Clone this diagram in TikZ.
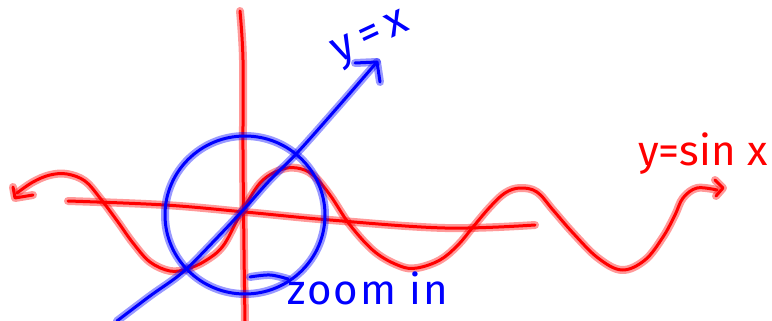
\documentclass[tikz,border=0pt]{standalone}
\usepackage{fontspec}
\setmainfont{Fira Sans}
\tikzset{
  redpen/.style={draw=red, line width=3pt, line cap=round, line join=round,
    preaction={draw=red, draw opacity=0.4, line width=8pt, line cap=round, line join=round}},
  bluepen/.style={draw=blue, line width=3pt, line cap=round, line join=round,
    preaction={draw=blue, draw opacity=0.4, line width=8pt, line cap=round, line join=round}},
  redtext/.style={text=red, font=\fontsize{42}{42}\selectfont, inner sep=0pt},
  bluetext/.style={text=blue, font=\fontsize{42}{42}\selectfont\addfontfeature{LetterSpace=5}, inner sep=0pt},
  yxtext/.style={text=blue, font=\fontsize{44}{44}\selectfont\addfontfeature{LetterSpace=18}, inner sep=0pt},
}
\begin{document}
\begin{tikzpicture}[x=1pt,y=-1pt]
\useasboundingbox (0,0) rectangle (772,321);
% red axes
\draw[redpen] plot[smooth, tension=0.6] coordinates {(240,11) (243,60) (243,150) (244,250) (245,321)};
\draw[redpen] plot[smooth, tension=0.6] coordinates {(68,201) (165,205) (245,212) (330,220) (445,228) (535,225)};
% sine curve
\draw[redpen] plot[smooth, tension=0.6] coordinates {(17,193) (33,182) (50,175) (67,174) (85,181) (100,198) (118,222) (133,243) (150,262) (170,271) (187,269) (205,261) (223,246) (240,215) (260,183) (280,170) (297,168) (313,175) (330,195) (350,225) (375,252) (400,266) (417,268) (440,260) (458,245) (473,227) (490,207) (505,193) (520,188) (537,192) (553,210) (573,233) (598,258) (622,270) (645,260) (663,237) (675,215) (683,198) (697,188) (717,190)};
\draw[redpen] (13,187) -- (15,198) -- (33,195);
\draw[redpen] (715,180) -- (723,188) -- (716,196);
\node[redtext, anchor=base west] (sinlabel) at (638,165) {y=sin x};
% blue circle and line
\draw[bluepen] (245,215) ellipse [x radius=80, y radius=79];
\draw[bluepen] plot[smooth, tension=0.6] coordinates {(117,321) (150,296) (183,272) (215,240) (245,208) (270,180) (297,153) (337,108) (377,62)};
\draw[bluepen] (355,63) -- (377,62) -- (380,82);
\draw[bluepen] plot[smooth, tension=0.6] coordinates {(250,277) (270,275) (288,279)};
\node[yxtext, rotate=25, anchor=center] (yxlabel) at (372,40) {y=x};
\node[bluetext, anchor=base west] (zoomlabel) at (287,304) {zoom in};
\end{tikzpicture}
\end{document}
